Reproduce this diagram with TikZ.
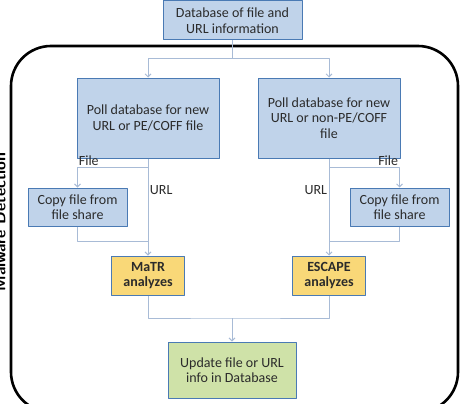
\documentclass[tikz,border=0pt]{standalone}
\usepackage{fontspec}
\setmainfont{Carlito}
\usepackage{xcolor}
\usetikzlibrary{arrows.meta,positioning}
\definecolor{boxblue}{HTML}{C0D3EA}
\definecolor{edgeblue}{HTML}{4A7AB4}
\definecolor{boxyellow}{HTML}{F9D878}
\definecolor{boxgreen}{HTML}{CFE2A8}
\definecolor{wire}{HTML}{A8BBD6}
\definecolor{ink}{HTML}{2B2B2B}
\tikzset{
    every picture/.style={line join=round},
    procbox/.style={draw=edgeblue,fill=boxblue,line width=1pt,
      inner sep=1pt,align=center,text=ink,font=\fontsize{14}{15.5}\selectfont},
    toolbox/.style={procbox,fill=boxyellow,font=\bfseries\fontsize{14}{15.5}\selectfont},
    resultbox/.style={procbox,fill=boxgreen},
    link/.style={draw=wire,line width=0.9pt},
    flowarrow/.style={link,-{Straight Barb[length=3pt,width=6pt]}},
    pathlabel/.style={text=ink,font=\fontsize{14}{15.5}\selectfont,inner sep=0.5pt},
    frame/.style={draw=black,line width=2.6pt,rounded corners=40pt}
}
\begin{document}
\begin{tikzpicture}[x=1pt,y=-1pt]
    \useasboundingbox (0,0) rectangle (463,404);

    % outer frame, partly cut off at the bottom
    \draw[frame] (11,46) rectangle (458,412);
    \node[rotate=90,font=\sffamily\bfseries\fontsize{16}{18}\selectfont] (mdlabel) at (0,222) {Malware Detection};

    % boxes
    \node[procbox,minimum width=139pt,minimum height=39pt] (db) at (232.5,20.5) {Database of file and\\URL information};
    \node[procbox,minimum width=142pt,minimum height=80pt] (pollL) at (148,118) {Poll database for new\\URL or PE/COFF file};
    \node[procbox,minimum width=142pt,minimum height=80pt] (pollR) at (329,118) {Poll database for new\\URL or non-PE/COFF\\file};
    \node[procbox,minimum width=99pt,minimum height=38pt] (copyL) at (77.5,207) {Copy file from\\file share};
    \node[procbox,minimum width=99pt,minimum height=38pt] (copyR) at (399.5,207) {Copy file from\\file share};
    \node[toolbox,minimum width=73pt,minimum height=39pt] (matr) at (148,275.5) {MaTR\\analyzes};
    \node[toolbox,minimum width=73pt,minimum height=39pt] (escape) at (329,275.5) {ESCAPE\\analyzes};
    \node[resultbox,minimum width=128pt,minimum height=56pt] (update) at (232,370) {Update file or URL\\info in Database};

    % junction points
    \coordinate (split) at (232.5,58);
    \coordinate (forkL) at (148,167);
    \coordinate (forkR) at (329,167);
    \coordinate (joinL) at (148,241);
    \coordinate (joinR) at (329,241);
    \coordinate (merge) at (232,318);

    % fan out to both pollers
    \draw[link] (db.south) -- (split);
    \draw[flowarrow] (split) -| (pollL.north);
    \draw[flowarrow] (split) -| (pollR.north);

    % left branch
    \draw[flowarrow] (pollL.south) -- (matr.north) node[pathlabel,pos=0.33,right=1pt] (urlL) {URL};
    \draw[flowarrow] (forkL) -| (copyL.north) node[pathlabel,pos=0.42,above=0pt] (fileL) {File};
    \draw[link] (copyL.south) |- (joinL);

    % right branch
    \draw[flowarrow] (pollR.south) -- (escape.north) node[pathlabel,pos=0.33,left=1pt] (urlR) {URL};
    \draw[flowarrow] (forkR) -| (copyR.north) node[pathlabel,pos=0.42,above=0pt] (fileR) {File};
    \draw[link] (copyR.south) |- (joinR);

    % results go back to the database
    \draw[link] (matr.south) |- (merge) -| (escape.south);
    \draw[flowarrow] (merge) -- (update.north);
\end{tikzpicture}
\end{document}
